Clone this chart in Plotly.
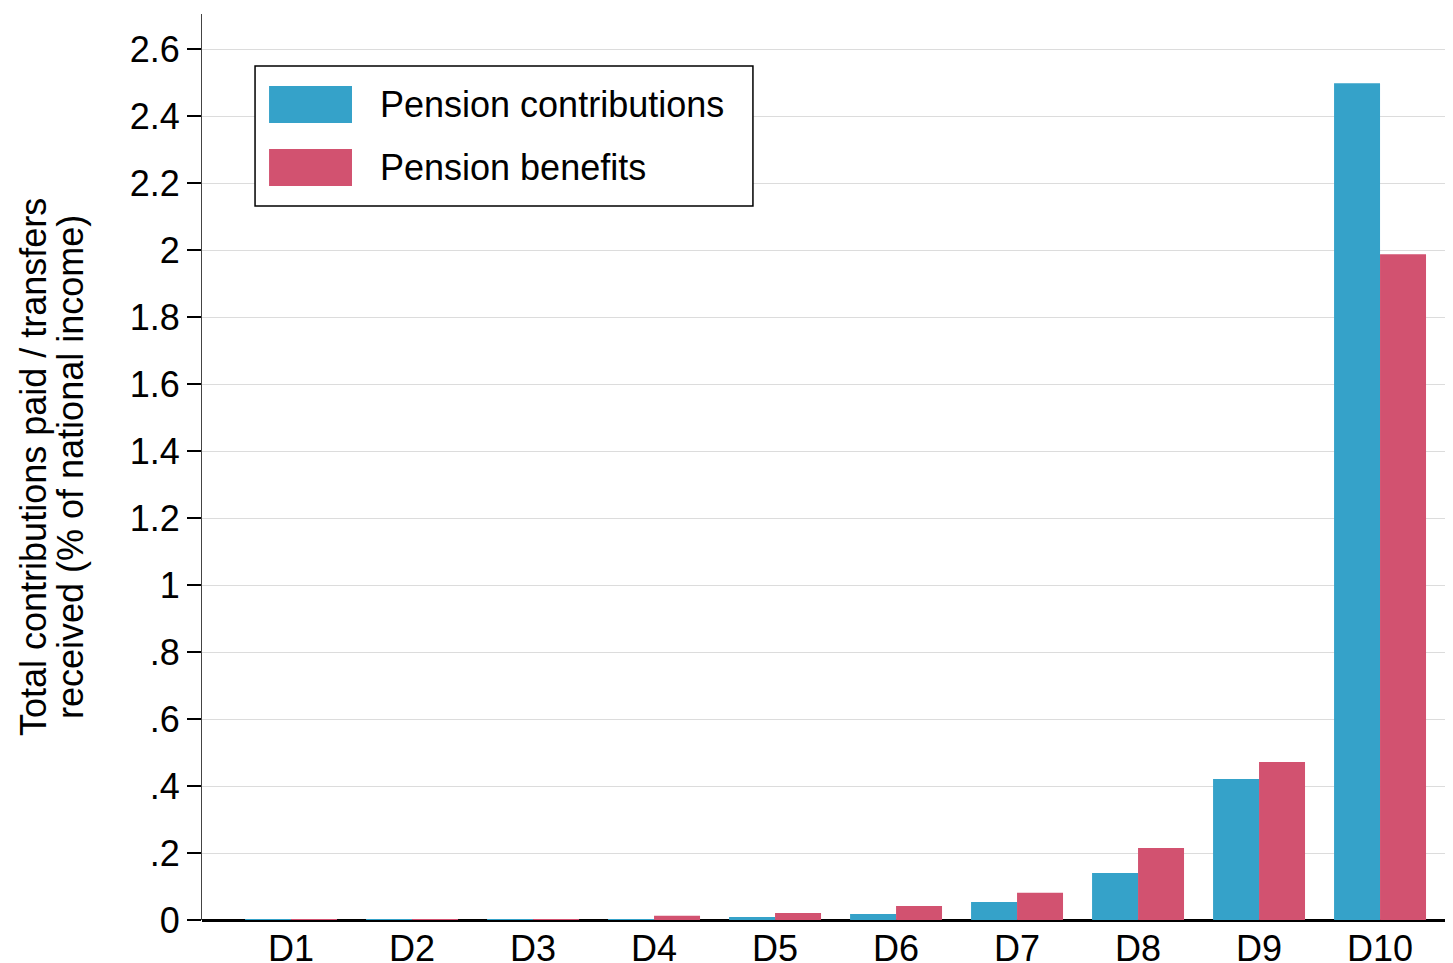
import plotly.graph_objects as go

deciles = ["D1", "D2", "D3", "D4", "D5", "D6", "D7", "D8", "D9", "D10"]
contributions = [0.001, 0.003, 0.003, 0.003, 0.009, 0.018, 0.054, 0.140, 0.421, 2.498]
benefits = [0.001, 0.003, 0.002, 0.013, 0.021, 0.042, 0.081, 0.215, 0.472, 1.988]

y_ticks = [0, 0.2, 0.4, 0.6, 0.8, 1, 1.2, 1.4, 1.6, 1.8, 2, 2.2, 2.4, 2.6]
y_labels = ["0", ".2", ".4", ".6", ".8", "1", "1.2", "1.4", "1.6", "1.8", "2", "2.2", "2.4", "2.6"]
y_title = ["Total contributions paid / transfers", "received (% of national income)"]

BLUE = "#35a2c9"
RED = "#d25270"
FONT = "Liberation Sans, Arial, sans-serif"

fig = go.Figure()
fig.add_trace(go.Bar(x=deciles, y=contributions, name="Pension contributions",
                     marker=dict(color=BLUE, line=dict(width=0))))
fig.add_trace(go.Bar(x=deciles, y=benefits, name="Pension benefits",
                     marker=dict(color=RED, line=dict(width=0))))

# legend drawn by hand so the swatches match the reference size
legend_items = [("Pension contributions", BLUE, 0.8797, 0.9205),
                ("Pension benefits", RED, 0.8102, 0.851)]
shapes = [dict(type="rect", xref="paper", yref="paper", x0=0.0424, x1=0.4404,
               y0=0.788, y1=0.9426, line=dict(color="black", width=1.5),
               fillcolor="white", layer="above")]
annotations = []
for label, col, y0, y1 in legend_items:
    shapes.append(dict(type="rect", xref="paper", yref="paper", x0=0.0536, x1=0.1199,
                       y0=y0, y1=y1, line=dict(width=0), fillcolor=col, layer="above"))
    annotations.append(dict(text=label, xref="paper", yref="paper", x=0.1405,
                            y=(y0 + y1) / 2, xanchor="left", yanchor="middle",
                            showarrow=False, font=dict(size=36, color="black", family=FONT)))

# y-axis title as two rotated lines (tighter line spacing than plotly's <br>)
for line, xpos in zip(y_title, [-0.1351, -0.1055]):
    annotations.append(dict(text=line, xref="paper", yref="paper", x=xpos, y=0.5,
                            xanchor="center", yanchor="middle", textangle=-90,
                            showarrow=False, font=dict(size=36, color="black", family=FONT)))

# page body adds an 8px offset, so the figure is 8px smaller than the window
fig.update_layout(
    width=1445, height=955,
    margin=dict(l=194, r=0, t=6, b=43),
    paper_bgcolor="white", plot_bgcolor="white",
    barmode="group", bargap=0.24, bargroupgap=0,
    showlegend=False,
    font=dict(family=FONT, size=36, color="black"),
    shapes=shapes, annotations=annotations,
    xaxis=dict(range=[-0.736, 9.603], showgrid=False, ticks="", showline=False,
               zeroline=False, tickfont=dict(size=36), ticklabelstandoff=4,
               automargin=False),
    yaxis=dict(range=[0, 2.705], tickvals=y_ticks, ticktext=y_labels,
               showgrid=True, gridcolor="#dcdcdc", gridwidth=1,
               ticks="outside", ticklen=14, tickcolor="black", tickwidth=1.5,
               showline=True, linecolor="#444", linewidth=1,
               zeroline=True, zerolinecolor="black", zerolinewidth=2.5,
               tickfont=dict(size=36), automargin=False),
)

fig.write_html("out.html")
